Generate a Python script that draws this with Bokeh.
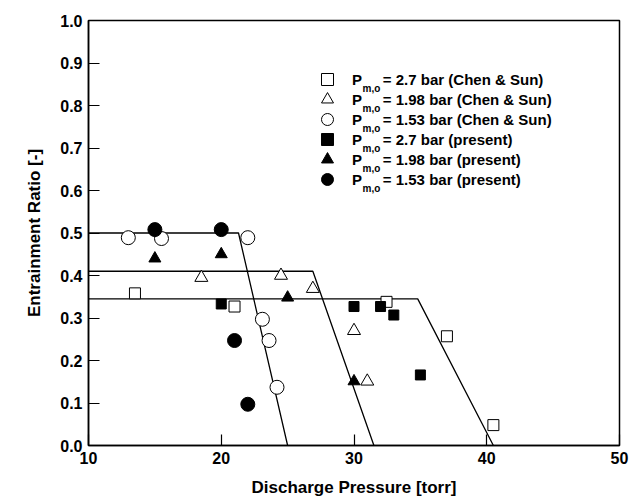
from bokeh.plotting import figure
from bokeh.models import Range1d, FixedTicker, Legend, LegendItem, Label, PrintfTickFormatter
from bokeh.embed import file_html
from bokeh.resources import INLINE

# ---- data ----
cs27_x = [13.5, 21.0, 32.45, 37.0, 40.5]
cs27_y = [0.358, 0.327, 0.338, 0.257, 0.048]
cs198_x = [18.5, 24.5, 26.9, 30.0, 31.0]
cs198_y = [0.395, 0.400, 0.369, 0.270, 0.151]
cs153_x = [13.0, 15.5, 22.0, 23.1, 23.6, 24.2]
cs153_y = [0.489, 0.487, 0.489, 0.297, 0.247, 0.137]
pr27_x = [20.0, 30.0, 32.0, 33.0, 35.0]
pr27_y = [0.333, 0.327, 0.327, 0.307, 0.166]
pr198_x = [15.0, 20.0, 25.0, 30.0]
pr198_y = [0.440, 0.450, 0.348, 0.151]
pr153_x = [15.0, 20.0, 21.0, 22.0]
pr153_y = [0.508, 0.508, 0.247, 0.097]

# model curves (constant then linear drop)
line153_x = [10.0, 21.3, 25.0]
line153_y = [0.500, 0.500, 0.0]
line198_x = [10.0, 26.9, 31.5]
line198_y = [0.410, 0.410, 0.0]
line27_x = [10.0, 34.8, 40.5]
line27_y = [0.345, 0.345, 0.0]

legend_labels = ["= 2.7 bar (Chen & Sun)", "= 1.98 bar (Chen & Sun)", "= 1.53 bar (Chen & Sun)",
                 "= 2.7 bar (present)", "= 1.98 bar (present)", "= 1.53 bar (present)"]
x_ticks = [10, 20, 30, 40, 50]
y_ticks = [0.0, 0.1, 0.2, 0.3, 0.4, 0.5, 0.6, 0.7, 0.8, 0.9, 1.0]

FONT = "Liberation Sans"

p = figure(width=644, height=499, output_backend="svg", toolbar_location=None,
           x_range=Range1d(10, 50), y_range=Range1d(0, 1),
           min_border_left=88, min_border_right=25, min_border_top=20, min_border_bottom=52)
p.grid.visible = False
p.outline_line_color = "black"
p.outline_line_width = 1.5
p.background_fill_color = "white"
p.border_fill_color = "white"

for ax in (p.xaxis[0], p.yaxis[0]):
    ax.axis_line_width = 1.5
    ax.axis_line_color = "black"
    ax.major_tick_in = 11
    ax.major_tick_out = 0
    ax.major_tick_line_width = 1.2
    ax.minor_tick_line_color = None
    ax.major_label_text_font = FONT
    ax.major_label_text_font_style = "bold"
    ax.major_label_text_font_size = "16px"
    ax.major_label_text_color = "black"
    ax.axis_label_text_font = FONT
    ax.axis_label_text_font_style = "bold"
    ax.axis_label_text_font_size = "17px"
    ax.axis_label_text_color = "black"

p.xaxis.ticker = FixedTicker(ticks=x_ticks)
p.yaxis.ticker = FixedTicker(ticks=y_ticks)
p.yaxis.formatter = PrintfTickFormatter(format="%.1f")
p.xaxis.axis_label = "Discharge Pressure [torr]"
p.yaxis.axis_label = "Entrainment Ratio [-]"
p.xaxis.major_label_standoff = 6
p.yaxis.major_label_standoff = 6
p.xaxis.axis_label_standoff = 11
p.yaxis.axis_label_standoff = 13

for lx, ly in ((line153_x, line153_y), (line198_x, line198_y), (line27_x, line27_y)):
    p.line(lx, ly, line_color="black", line_width=1.3)

r1 = p.scatter(cs27_x, cs27_y, marker="square", size=11, fill_color="white", line_color="black", line_width=1)
r2 = p.scatter(cs198_x, cs198_y, marker="triangle", size=13, fill_color="white", line_color="black", line_width=1)
r3 = p.scatter(cs153_x, cs153_y, marker="circle", size=14, fill_color="white", line_color="black", line_width=1)
r4 = p.scatter(pr27_x, pr27_y, marker="square", size=10, fill_color="black", line_color="black")
r5 = p.scatter(pr198_x, pr198_y, marker="triangle", size=12, fill_color="black", line_color="black")
r6 = p.scatter(pr153_x, pr153_y, marker="circle", size=14, fill_color="black", line_color="black")

NB = "\u00a0"
renderers = [r1, r2, r3, r4, r5, r6]
for i, (lab, r) in enumerate(zip(legend_labels, renderers)):
    lg = Legend(items=[LegendItem(label="P" + NB * 5 + lab, renderers=[r])],
                location=(224, 350.7 - 20 * i), padding=0, margin=0, spacing=0,
                glyph_width=30, glyph_height=30, label_height=30, label_standoff=10,
                background_fill_alpha=0, border_line_alpha=0,
                label_text_font=FONT, label_text_font_style="bold", label_text_font_size="15px",
                label_text_color="black")
    p.add_layout(lg)
    p.add_layout(Label(x=274, y=357.0 - 20 * i, x_units="screen", y_units="screen", text="m,o",
                       text_font=FONT, text_font_style="bold", text_font_size="10px",
                       text_baseline="middle", text_color="black"))

open("out.html", "w").write(file_html(p, INLINE))
